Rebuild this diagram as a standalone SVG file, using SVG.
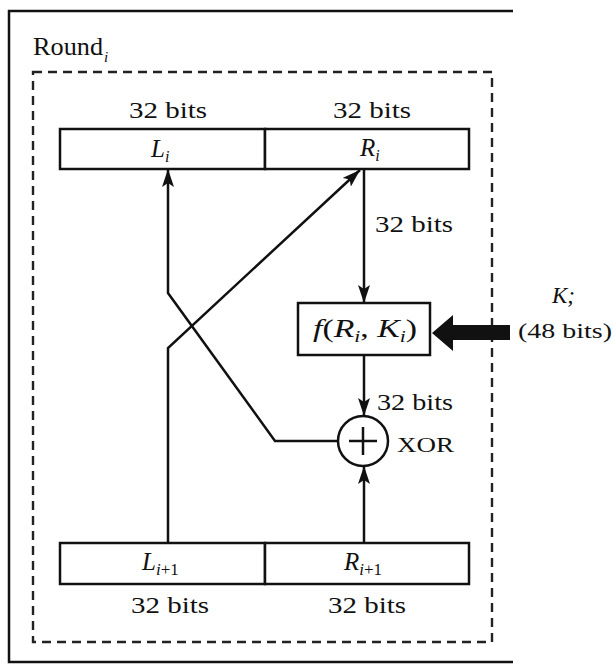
<svg xmlns="http://www.w3.org/2000/svg" width="613" height="665" viewBox="0 0 613 665">
<style>
  .t { font-family: "Liberation Serif", "Times New Roman", serif; fill: #111; }
  .it { font-style: italic; }
  .box { fill: #fff; stroke: #111; stroke-width: 2.5; }
  .ln { fill: none; stroke: #111; stroke-width: 2.5; }
  .frame { fill: none; stroke: #111; stroke-width: 2.5; }
  .dash { fill: none; stroke: #222; stroke-width: 2.4; stroke-dasharray: 9 6; }
</style>
<defs>
  <marker id="ah" viewBox="0 0 18 12" refX="18" refY="6" markerWidth="18" markerHeight="12" markerUnits="userSpaceOnUse" orient="auto">
    <path d="M0,0 L18,6 L0,12 L4,6 Z" fill="#111"/>
  </marker>
</defs>
<rect width="613" height="665" fill="#fff"/>

<g id="frame">
  <polyline class="frame" points="513,11 9,11 9,662 513,662"/>
  <text class="t" x="33" y="55" font-size="26" textLength="70" lengthAdjust="spacingAndGlyphs">Round</text>
  <text class="t it" x="104" y="62" font-size="15">i</text>
  <rect class="dash" x="33" y="72" width="459" height="570"/>
</g>

<g id="connectors">
  <line class="ln" x1="364" y1="169" x2="364" y2="303" marker-end="url(#ah)"/>
  <line class="ln" x1="364" y1="355" x2="364" y2="416" marker-end="url(#ah)"/>
  <line class="ln" x1="364" y1="543" x2="364" y2="466" marker-end="url(#ah)"/>
  <polyline class="ln" points="338,441 275,441 168,293 168,169" marker-end="url(#ah)"/>
  <polyline class="ln" points="168,543 168,348 360,170" marker-end="url(#ah)"/>
  <polygon points="510,325 453,325 453,315 432,333 453,351 453,340 510,340" fill="#111"/>
</g>

<g id="top-boxes">
  <rect class="box" x="60" y="129" width="205" height="40"/>
  <rect class="box" x="265" y="129" width="204" height="40"/>
  <text class="t" x="168" y="118" font-size="23" text-anchor="middle" textLength="78" lengthAdjust="spacingAndGlyphs">32 bits</text>
  <text class="t" x="372" y="118" font-size="23" text-anchor="middle" textLength="78" lengthAdjust="spacingAndGlyphs">32 bits</text>
  <text class="t it" x="151" y="157" font-size="25">L<tspan font-size="16" dy="5">i</tspan></text>
  <text class="t it" x="360" y="156" font-size="25">R<tspan font-size="16" dy="5">i</tspan></text>
</g>

<g id="f-box">
  <rect class="box" x="298" y="303" width="132" height="52"/>
  <text class="t" x="313" y="337" font-size="25" textLength="104" lengthAdjust="spacingAndGlyphs"><tspan class="it">f</tspan>(<tspan class="it">R</tspan><tspan class="it" font-size="16" dy="5">i</tspan><tspan dy="-5">, </tspan><tspan class="it">K</tspan><tspan class="it" font-size="16" dy="5">i</tspan><tspan dy="-5">)</tspan></text>
  <text class="t" x="375" y="232" font-size="23" textLength="78" lengthAdjust="spacingAndGlyphs">32 bits</text>
</g>

<g id="key">
  <text class="t it" x="552" y="303" font-size="23">K;</text>
  <text class="t" x="518" y="338" font-size="22" textLength="94" lengthAdjust="spacingAndGlyphs">(48 bits)</text>
</g>

<g id="xor">
  <circle cx="363" cy="441" r="25" fill="#fff" stroke="#111" stroke-width="2.5"/>
  <line class="ln" x1="349" y1="441" x2="377" y2="441"/>
  <line class="ln" x1="363" y1="427" x2="363" y2="455"/>
  <text class="t" x="377" y="410" font-size="23" textLength="76" lengthAdjust="spacingAndGlyphs">32 bits</text>
  <text class="t" x="397" y="452" font-size="22" textLength="57" lengthAdjust="spacingAndGlyphs">XOR</text>
</g>

<g id="bottom-boxes">
  <rect class="box" x="60" y="543" width="205" height="41"/>
  <rect class="box" x="265" y="543" width="204" height="41"/>
  <text class="t it" x="142" y="570" font-size="25">L<tspan font-size="17" dy="5">i</tspan><tspan font-size="17" font-style="normal">+1</tspan></text>
  <text class="t it" x="344" y="570" font-size="25">R<tspan font-size="17" dy="5">i</tspan><tspan font-size="17" font-style="normal">+1</tspan></text>
  <text class="t" x="170" y="613" font-size="23" text-anchor="middle" textLength="78" lengthAdjust="spacingAndGlyphs">32 bits</text>
  <text class="t" x="367" y="613" font-size="23" text-anchor="middle" textLength="78" lengthAdjust="spacingAndGlyphs">32 bits</text>
</g>
</svg>
